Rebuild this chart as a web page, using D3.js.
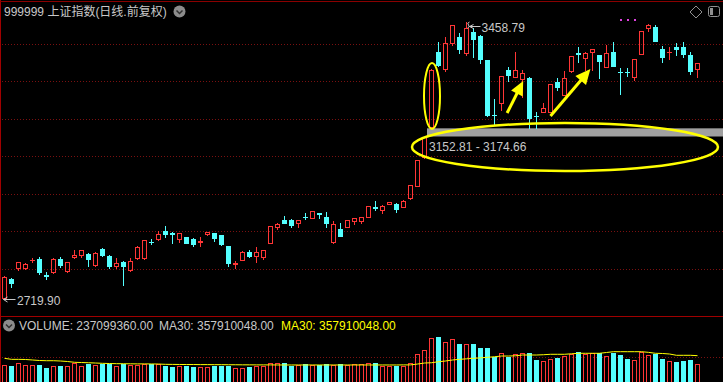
<!DOCTYPE html>
<html><head><meta charset="utf-8">
<script src="https://cdn.jsdelivr.net/npm/d3@7"></script>
<style>html,body{margin:0;padding:0;background:#000;overflow:hidden}</style>
</head><body>
<svg id="c" width="723" height="382"></svg>
<script>
// ---------- DATA ----------
const title = "999999 上证指数(日线.前复权)";
const openP = [2722.0,2772.0,2801.4,2801.4,2821.5,2825.5,2781.4,2790.7,2825.5,2793.4,
2830.8,2836.1,2838.8,2809.4,2852.2,2833.5,2806.8,2817.4,2796.1,2828.1,
2828.1,2872.2,2878.9,2900.3,2894.9,2878.9,2884.2,2878.9,2872.2,2892.3,
2894.9,2889.6,2860.2,2813.4,2822.8,2844.2,2833.5,2830.8,2868.2,2911.0,
2929.7,2929.7,2921.7,2939.0,2935.0,2948.4,2937.7,2870.9,2905.6,2911.0,
2927.0,2927.0,2937.7,2963.1,2956.4,2972.4,2972.4,2964.4,2988.5,3020.5,
3098.0,3178.2,3378.6,3333.2,3402.7,3418.7,3375.9,3432.1,3421.4,3357.2,
3211.6,3242.3,3330.5,3311.8,3306.5,3309.1,3208.9,3218.3,3218.3,3298.5,
3263.7,3327.9,3375.9,3362.6,3378.6,3370.6,3338.5,3378.6,3326.5,3326.5,
3311.8,3373.3,3442.8,3445.4,3386.6,3378.6,3392.0,3392.0,3370.6,3333.2];
const highP = [2779.0,2774.7,2818.5,2814.8,2828.1,2830.8,2790.7,2828.1,2830.8,2818.5,
2849.5,2850.5,2841.5,2844.2,2854.9,2836.1,2828.1,2820.1,2828.1,2860.2,
2877.5,2878.9,2900.3,2913.6,2897.6,2896.0,2885.5,2881.6,2884.2,2898.5,
2896.0,2890.8,2861.5,2820.1,2845.5,2849.5,2857.5,2850.5,2914.8,2921.7,
2940.4,2932.4,2930.8,2948.4,2954.8,2949.5,2951.1,2927.0,2921.7,2930.8,
2936.0,2938.8,2968.2,2980.4,2969.8,2978.8,2975.1,2983.1,3024.3,3091.0,
3152.81,3333.2,3405.3,3418.7,3451.8,3429.4,3458.79,3442.8,3424.1,3358.5,
3253.0,3315.5,3338.5,3378.6,3330.5,3311.8,3218.3,3242.3,3294.0,3309.1,
3327.9,3369.0,3392.0,3378.6,3387.6,3371.5,3397.3,3405.3,3335.9,3335.9,
3361.0,3435.7,3453.4,3450.8,3394.6,3392.0,3402.7,3405.3,3378.6,3350.2];
const lowP = [2719.90,2750.6,2796.1,2798.7,2817.4,2785.4,2772.0,2788.0,2804.1,2792.0,
2828.1,2830.8,2806.8,2806.8,2833.5,2801.4,2801.4,2756.0,2794.5,2826.5,
2826.5,2865.5,2876.2,2884.2,2868.2,2870.9,2867.0,2860.2,2860.2,2889.6,
2873.6,2862.9,2806.8,2801.4,2821.5,2830.8,2817.4,2825.5,2867.0,2905.6,
2920.5,2911.0,2911.0,2932.4,2934.0,2935.0,2911.0,2869.5,2885.8,2909.8,
2919.0,2921.7,2936.5,2956.4,2948.4,2971.3,2951.1,2963.3,2985.8,3019.5,
3096.5,3174.66,3341.2,3327.9,3397.3,3375.9,3370.6,3365.3,3349.2,3207.6,
3183.5,3223.6,3301.1,3310.8,3258.4,3175.5,3176.0,3217.0,3217.0,3277.1,
3262.5,3326.5,3351.9,3330.5,3330.5,3309.1,3337.5,3340.0,3266.4,3314.5,
3303.8,3372.3,3434.7,3407.0,3351.9,3359.9,3370.6,3365.3,3319.8,3311.8];
const closeP = [2777.4,2761.3,2817.4,2812.1,2822.8,2790.7,2780.0,2825.5,2809.4,2817.4,
2836.1,2849.5,2825.5,2841.5,2836.1,2806.8,2814.8,2806.8,2820.1,2857.5,
2876.2,2870.9,2892.3,2892.3,2892.3,2894.9,2868.2,2865.5,2873.6,2897.6,
2881.6,2865.5,2814.8,2814.8,2844.2,2833.5,2844.2,2849.5,2913.6,2919.0,
2921.7,2916.3,2929.7,2937.7,2953.7,2945.7,2921.7,2919.0,2886.9,2929.7,
2935.0,2937.7,2967.1,2961.7,2967.1,2977.8,2959.1,2980.4,3023.2,3090.0,
3150.2,3330.5,3343.9,3402.7,3450.8,3386.6,3442.8,3413.4,3359.9,3210.3,
3210.3,3314.5,3317.2,3330.5,3322.5,3202.3,3207.6,3229.0,3293.1,3285.1,
3309.1,3367.9,3374.6,3375.9,3386.6,3354.6,3375.9,3341.2,3325.2,3325.2,
3359.9,3434.7,3450.8,3408.0,3365.3,3379.9,3386.6,3373.3,3327.9,3349.2];
// volume in millions of shares
const volumeM = [223,213,261,233,233,233,185,209,209,209,
251,213,241,233,241,241,213,247,223,223,
241,237,237,209,205,213,213,205,205,205,
213,213,213,185,185,205,213,213,261,251,
251,213,223,237,223,223,237,223,237,223,
237,247,261,261,213,213,213,213,261,377,
432,596,618,544,582,516,526,516,460,460,
339,400,339,377,395,400,293,283,317,331,
349,386,414,377,395,395,358,395,363,317,
293,409,363,386,317,283,265,279,293,237.09936];
const ma30M = [321,307,307,305,298,291,288,288,284,277,
266,263,260,256,252,249,247,246,245,244,
244,243,242,238,237,236,235,235,234,234,
233,233,232,232,231,231,230,230,230,229,
229,229,229,229,229,229,229,229,229,229,
229,229,229,229,229,229,229,230,230,242,
256,260,274,284,298,307,314,321,328,335,
343,353,353,356,367,367,367,371,377,377,
377,384,391,391,391,391,402,413,413,413,
413,413,404,391,388,381,363,363,363,357.910048];
const priceGrid = [2800,2900,3000,3100,3200,3300,3400];
const volumeGrid = [340];
const gapLow = 3152.81, gapHigh = 3174.66;
const highIdx = 66, lowIdx = 0;

// ---------- SETUP ----------
const W = 723, H = 382;
const RED = "#ff3636", CYAN = "#54ffff", TXT = "#c8c8c8", YEL = "#ffff00";
const FONT = "'Liberation Sans', Arial, 'Noto Sans CJK SC', sans-serif";
const svg = d3.select("#c");
svg.append("rect").attr("width", W).attr("height", H).attr("fill", "#000");

const n = openP.length;
const x = d3.scaleLinear().domain([0, n - 1]).range([4.5, 697.5]);
const y = d3.scaleLinear().domain([2719.90, 3458.79]).range([298.5, 22]);
const yv = d3.scaleLinear().domain([0, 600]).range([381.5, 338.2]);
const r5 = v => Math.round(v) + 0.5;

// borders
svg.append("line").attr("x1", 0.5).attr("x2", 0.5).attr("y1", 0).attr("y2", H).attr("stroke", "#a00000");
svg.append("line").attr("x1", 0).attr("x2", W).attr("y1", 1.5).attr("y2", 1.5).attr("stroke", "#8a0000");
svg.append("line").attr("x1", 0).attr("x2", W).attr("y1", 316.5).attr("y2", 316.5).attr("stroke", "#a00000");

// grid
svg.append("g").selectAll("line").data(priceGrid).join("line")
  .attr("x1", 2).attr("x2", W).attr("y1", d => r5(y(d))).attr("y2", d => r5(y(d)))
  .attr("stroke", "#7a1010").attr("stroke-dasharray", "1,2");
svg.append("g").selectAll("line").data(volumeGrid).join("line")
  .attr("x1", 2).attr("x2", W).attr("y1", d => r5(yv(d))).attr("y2", d => r5(yv(d)))
  .attr("stroke", "#7a1010").attr("stroke-dasharray", "1,2");

// gap band
svg.append("rect").attr("x", x(60) + 2.5).attr("width", W - x(60) - 2.5)
  .attr("y", y(gapHigh)).attr("height", y(gapLow) - y(gapHigh)).attr("fill", "#a0a0a0");
svg.append("text").attr("x", x(60) + 4.5).attr("y", y(gapLow) + 14.5)
  .attr("fill", TXT).attr("font-family", FONT).attr("font-size", 12)
  .text(d3.format(".2f")(gapLow) + " - " + d3.format(".2f")(gapHigh));

// candles
const data = d3.range(n).map(i => ({i, o: openP[i], h: highP[i], l: lowP[i], c: closeP[i], v: volumeM[i]}));
const cg = svg.append("g");
data.forEach(d => {
  const up = d.c >= d.o;
  const col = up ? RED : CYAN;
  const cx = x(d.i);
  const yo = y(d.o), yc = y(d.c), yh = y(d.h), yl = y(d.l);
  const top = Math.round(Math.min(yo, yc)), bot = Math.round(Math.max(yo, yc));
  const yH = Math.round(yh), yL = Math.round(yl);
  if (bot - top < 1) {
    cg.append("line").attr("x1", cx).attr("x2", cx).attr("y1", yH).attr("y2", yL + 1).attr("stroke", col);
    cg.append("line").attr("x1", cx - 2.5).attr("x2", cx + 2.5).attr("y1", top + 0.5).attr("y2", top + 0.5).attr("stroke", col);
    return;
  }
  if (up) {
    if (yH < top) cg.append("line").attr("x1", cx).attr("x2", cx).attr("y1", yH).attr("y2", top).attr("stroke", col);
    if (yL > bot) cg.append("line").attr("x1", cx).attr("x2", cx).attr("y1", bot + 1).attr("y2", yL + 1).attr("stroke", col);
    cg.append("rect").attr("x", cx - 2).attr("width", 4).attr("y", top + 0.5).attr("height", bot - top)
      .attr("fill", "none").attr("stroke", col);
  } else {
    cg.append("line").attr("x1", cx).attr("x2", cx).attr("y1", yH).attr("y2", yL + 1).attr("stroke", col);
    cg.append("rect").attr("x", cx - 2.5).attr("width", 5).attr("y", top).attr("height", bot - top + 1).attr("fill", col);
  }
});

// volume bars
const vg = svg.append("g");
data.forEach(d => {
  const up = d.c >= d.o;
  const cx = x(d.i);
  const t = Math.round(yv(d.v));
  if (up) {
    vg.append("rect").attr("x", cx - 2).attr("width", 4).attr("y", t + 0.5).attr("height", H - t)
      .attr("fill", "none").attr("stroke", RED);
  } else {
    vg.append("rect").attr("x", cx - 2.5).attr("width", 5).attr("y", t).attr("height", H - t).attr("fill", CYAN);
  }
});
// MA30 line
svg.append("path").datum(ma30M)
  .attr("d", d3.line().x((d, i) => x(i)).y(d => yv(d)))
  .attr("fill", "none").attr("stroke", YEL).attr("stroke-width", 1);

// title
svg.append("text").attr("x", 4).attr("y", 15.5).attr("fill", TXT)
  .attr("font-family", FONT).attr("font-size", 12).text(title);
function chevronIcon(cx, cy) {
  svg.append("circle").attr("cx", cx).attr("cy", cy).attr("r", 6).attr("fill", "#8c8c8c");
  svg.append("path").attr("d", `M${cx - 3},${cy - 1} l3,3 l3,-3`).attr("fill", "none")
    .attr("stroke", "#303030").attr("stroke-width", 1.5);
}
chevronIcon(179.5, 11.5);
chevronIcon(9, 325.5);

// right-top icons
svg.append("path").attr("d", "M696,6 L702,12 L696,18 L690,12 Z").attr("fill", "none").attr("stroke", "#909090");
svg.append("rect").attr("x", 708.5).attr("y", 6.5).attr("width", 11).attr("height", 10).attr("rx", 2)
  .attr("fill", "none").attr("stroke", "#909090");
svg.append("rect").attr("x", 710).attr("y", 8).attr("width", 3).attr("height", 7).attr("fill", "#909090");
// magenta markers
svg.append("g").selectAll("rect").data([0, 1, 2]).join("rect")
  .attr("x", d => 620 + d * 7).attr("y", 19).attr("width", 2).attr("height", 2).attr("fill", "#e040e0");

// volume header
const fmt = d3.format(".2f");
const lastVol = volumeM[n - 1] * 1e6, lastMA = ma30M[n - 1] * 1e6;
svg.append("text").attr("x", 19).attr("y", 329.5).attr("fill", TXT).attr("font-family", FONT).attr("font-size", 12)
  .text("VOLUME: " + fmt(lastVol));
svg.append("text").attr("x", 159).attr("y", 329.5).attr("fill", TXT).attr("font-family", FONT).attr("font-size", 12)
  .text("MA30: " + fmt(lastMA));
svg.append("text").attr("x", 281).attr("y", 329.5).attr("fill", YEL).attr("font-family", FONT).attr("font-size", 12)
  .text("MA30: " + fmt(lastMA));

// high / low labels
const hx = x(highIdx), hy = y(highP[highIdx]);
svg.append("path").attr("d", `M${hx + 3},${hy} q-3,1 -1,3 q2,2 -1,3 M${hx + 3},${hy + 4.5} l4,-2 M${hx + 3},${hy + 4.5} l4,2 M${hx + 3},${hy + 4.5} L${hx + 14},${hy + 4.5}`)
  .attr("fill", "none").attr("stroke", TXT);
svg.append("text").attr("x", hx + 15).attr("y", hy + 9.5).attr("fill", TXT).attr("font-family", FONT)
  .attr("font-size", 12).text(fmt(highP[highIdx]));
const lx = x(lowIdx), ly = Math.round(y(lowP[lowIdx])) + 0.5;
svg.append("path").attr("d", `M${lx - 1},${ly} L${lx + 11},${ly} M${lx - 1},${ly} l4,-2.5 M${lx - 1},${ly} l4,2.5`)
  .attr("fill", "none").attr("stroke", TXT);
svg.append("text").attr("x", lx + 12.5).attr("y", ly + 5).attr("fill", TXT).attr("font-family", FONT)
  .attr("font-size", 12).text(fmt(lowP[lowIdx]));

// annotations (yellow)
const ann = svg.append("g");
ann.append("ellipse").attr("cx", x(61) + 0.5).attr("cy", y(3261)).attr("rx", 8).attr("ry", 33)
  .attr("fill", "none").attr("stroke", YEL).attr("stroke-width", 2);
ann.append("ellipse").attr("cx", x(80.07)).attr("cy", y(3124.75)).attr("rx", 153).attr("ry", 24)
  .attr("fill", "none").attr("stroke", YEL).attr("stroke-width", 2.5);
function arrow(i0, p0, i1, p1, hl, hw) {
  const x0 = x(i0), y0 = y(p0), x1 = x(i1), y1 = y(p1);
  const dx = x1 - x0, dy = y1 - y0, L = Math.hypot(dx, dy), ux = dx / L, uy = dy / L;
  const bx = x1 - ux * hl, by = y1 - uy * hl, nx = -uy, ny = ux;
  ann.append("line").attr("x1", x0).attr("y1", y0).attr("x2", bx + ux * 2).attr("y2", by + uy * 2)
    .attr("stroke", YEL).attr("stroke-width", 3);
  ann.append("path").attr("d", `M${x1},${y1} L${bx + nx * hw},${by + ny * hw} L${bx - nx * hw},${by - ny * hw} Z`)
    .attr("fill", YEL);
}
arrow(71.8, 3215.6, 74.1, 3301.1, 14, 6.5);
arrow(78.0, 3207.6, 83.7, 3333.2, 15, 7);
</script>
</body></html>
